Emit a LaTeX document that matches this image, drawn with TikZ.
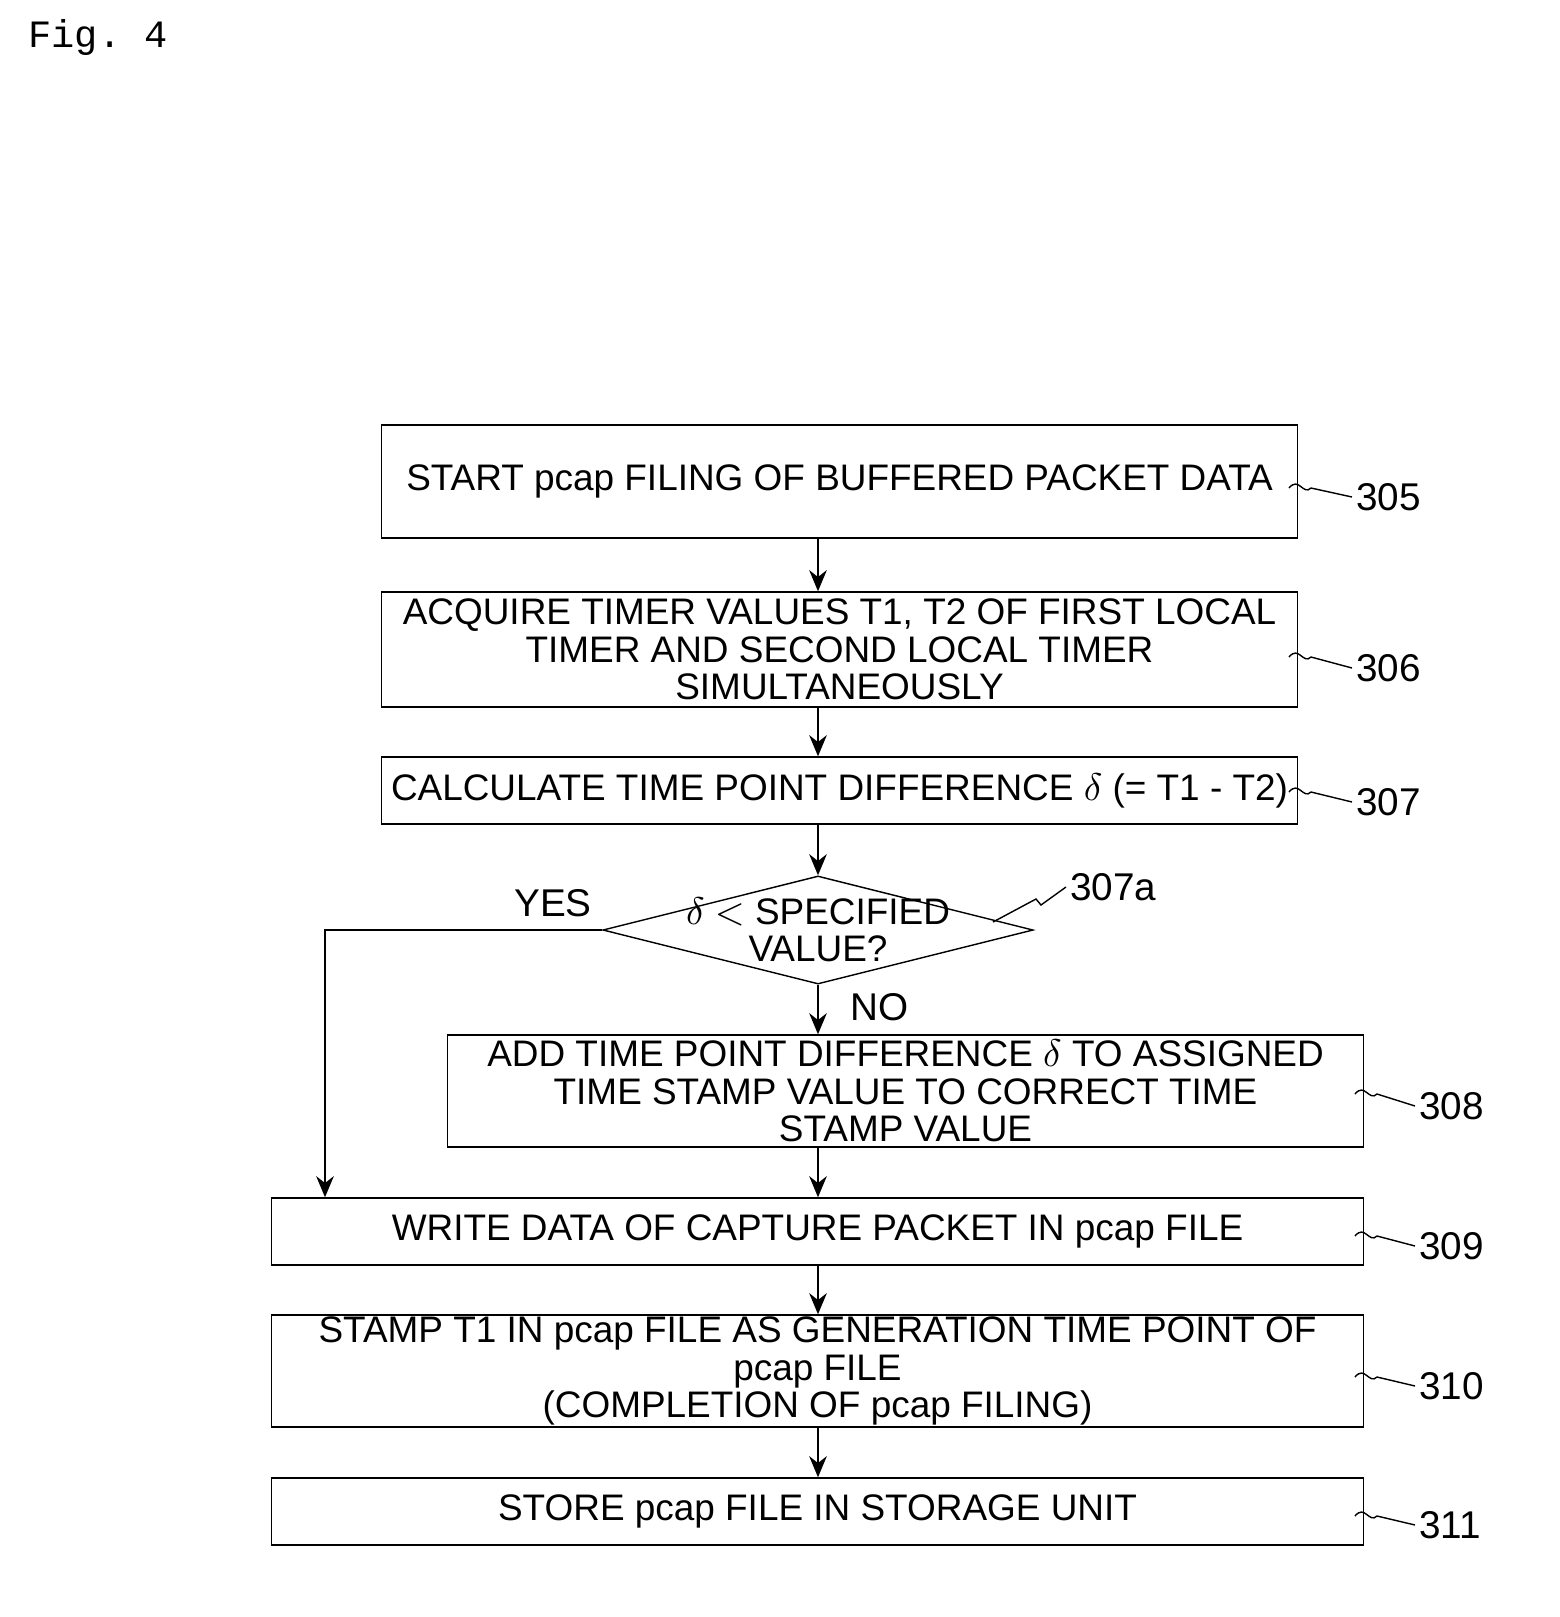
\documentclass[tikz,border=0pt]{standalone}
\usepackage{fontspec}
\setmainfont{Liberation Sans}
\setmonofont{Liberation Mono}
\usetikzlibrary{shapes.geometric,arrows.meta}
\tikzset{
  procbox/.style={draw, thin, align=center, inner sep=0pt, font=\fontsize{10.5}{10.6}\selectfont},
  flow/.style={-{Stealth[length=6pt,width=5pt]}, semithick},
  refnum/.style={font=\fontsize{11}{11}\selectfont, anchor=west, inner sep=1pt},
}
\def\squig#1#2{\draw[thin] (#1) .. controls +(10,-12) and +(-8,8) .. ++(22,0) -- (#2.west);}
\begin{document}
\begin{tikzpicture}[x=0.01cm, y=-0.01cm]
  \useasboundingbox (0,0) rectangle (1560,1617);
  \node[anchor=west, font=\ttfamily\fontsize{11}{11}\selectfont] (fig) at (16,37) {Fig. 4};
  \coordinate (axis) at (818,0);
  % boxes
  \node[procbox, minimum width=9.15cm, minimum height=1.13cm] (s305) at (839.5,481.5) {START pcap FILING OF BUFFERED PACKET DATA};
  \node[procbox, minimum width=9.15cm, minimum height=1.15cm] (s306) at (839.5,649.5) {ACQUIRE TIMER VALUES T1, T2 OF FIRST LOCAL\\TIMER AND SECOND LOCAL TIMER\\SIMULTANEOUSLY};
  \node[procbox, minimum width=9.15cm, minimum height=0.67cm] (s307) at (839.5,790.5) {CALCULATE TIME POINT DIFFERENCE $\delta$ (= T1 - T2)};
  \node[procbox, diamond, aspect=4, minimum width=4.3cm, minimum height=1.08cm, inner sep=-4pt] (d307a) at (818,930) {$\delta$ $<$ SPECIFIED\\VALUE?};
  \node[procbox, minimum width=9.15cm, minimum height=1.12cm] (s308) at (905.5,1091) {ADD TIME POINT DIFFERENCE $\delta$ TO ASSIGNED\\TIME STAMP VALUE TO CORRECT TIME\\STAMP VALUE};
  \node[procbox, minimum width=10.91cm, minimum height=0.67cm] (s309) at (817.5,1231.5) {WRITE DATA OF CAPTURE PACKET IN pcap FILE};
  \node[procbox, minimum width=10.91cm, minimum height=1.12cm] (s310) at (817.5,1371) {STAMP T1 IN pcap FILE AS GENERATION TIME POINT OF\\pcap FILE\\(COMPLETION OF pcap FILING)};
  \node[procbox, minimum width=10.91cm, minimum height=0.67cm] (s311) at (817.5,1511.5) {STORE pcap FILE IN STORAGE UNIT};
  % connectors
  \draw[flow] (s305.south -| axis) -- (s306.north -| axis);
  \draw[flow] (s306.south -| axis) -- (s307.north -| axis);
  \draw[flow] (s307.south -| axis) -- (d307a.north);
  \draw[flow] (d307a.south) -- (s308.north -| axis);
  \draw[flow] (s308.south -| axis) -- (s309.north -| axis);
  \draw[flow] (s309.south -| axis) -- (s310.north -| axis);
  \draw[flow] (s310.south -| axis) -- (s311.north -| axis);
  \coordinate (yesbend) at (325,930);
  \draw[flow] (d307a.west) -- (yesbend) -- (s309.north -| yesbend);
  \node[font=\fontsize{11}{11}\selectfont] (yes) at (553,903) {YES};
  \node[font=\fontsize{11}{11}\selectfont] (no) at (880,1007) {NO};
  % reference numerals
  \node[refnum] (n305) at (1352,497) {305};
  \node[refnum] (n306) at (1352,668) {306};
  \node[refnum] (n307) at (1352,802) {307};
  \node[refnum] (n308) at (1415,1106) {308};
  \node[refnum] (n309) at (1415,1246) {309};
  \node[refnum] (n310) at (1415,1386) {310};
  \node[refnum] (n311) at (1415,1525) {311};
  \node[refnum] (n307a) at (1066,887) {307a};
  \squig{1289,488}{n305}
  \squig{1289,657}{n306}
  \squig{1289,792}{n307}
  \squig{1355,1094}{n308}
  \squig{1355,1236}{n309}
  \squig{1355,1377}{n310}
  \squig{1355,1516}{n311}
  \draw[thin] (n307a.west) -- ++(-25,18) -- ++(-5,-6) -- (993,922);
\end{tikzpicture}
\end{document}
